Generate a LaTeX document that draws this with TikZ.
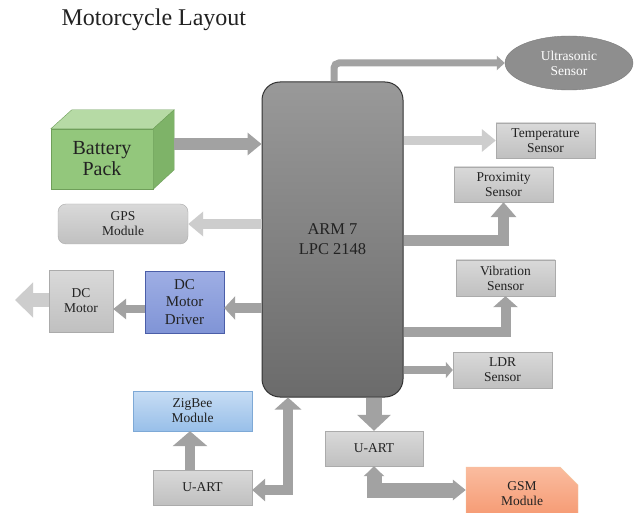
\documentclass[tikz,border=0pt]{standalone}
\usepackage{fontspec}
\setmainfont{Liberation Serif}
\usetikzlibrary{arrows.meta,calc,shapes.geometric,shapes.misc}
\definecolor{armtop}{HTML}{999999}
\definecolor{armbot}{HTML}{6B6B6B}
\definecolor{armborder}{HTML}{333333}
\definecolor{boxtop}{HTML}{D9D9D9}
\definecolor{boxbot}{HTML}{C0C0C0}
\definecolor{boxborder}{HTML}{ABABAB}
\definecolor{midarrcol}{HTML}{A2A2A2}
\definecolor{lightarrcol}{HTML}{CDCDCD}
\definecolor{batfrontcol}{HTML}{93C77C}
\definecolor{battopcol}{HTML}{B6DAA5}
\definecolor{batsidecol}{HTML}{7EB368}
\definecolor{batbordercol}{HTML}{6F9F5A}
\definecolor{drvtop}{HTML}{9EAEE4}
\definecolor{drvbot}{HTML}{8094D6}
\definecolor{drvborder}{HTML}{4B5EA8}
\definecolor{zigtop}{HTML}{C7DDF4}
\definecolor{zigbot}{HTML}{98BFE9}
\definecolor{zigborder}{HTML}{7EA9D6}
\definecolor{gsmtop}{HTML}{FABC9F}
\definecolor{gsmbot}{HTML}{F5976F}
\definecolor{gsmborder}{HTML}{F4C8A0}
\definecolor{ultrafill}{HTML}{8E8E8E}
\definecolor{ultraborder}{HTML}{7B7B7B}
\definecolor{txtcol}{HTML}{222222}
\newcommand{\txtsmall}{\fontsize{13.5}{15}\selectfont}
\begin{document}
\begin{tikzpicture}[x=1pt,y=-1pt,
  graybox/.style={draw=boxborder, top color=boxtop, bottom color=boxbot,
    minimum width=99pt, minimum height=35pt, inner sep=1pt, align=center,
    font=\txtsmall, text=txtcol},
  barr/.style n args={3}{line width=#1pt, -{Triangle[width=#2pt,length=#3pt]}, line join=miter},
  bbarr/.style n args={5}{line width=#1pt, {Triangle[width=#2pt,length=#3pt]}-{Triangle[width=#4pt,length=#5pt]}, line join=miter},
  midarr/.style={draw=midarrcol},
  lightarr/.style={draw=lightarrcol}]
\clip (0,0) rectangle (640,513);
\fill[white] (0,0) rectangle (640,513);

\node[anchor=base west, font=\fontsize{24}{26}\selectfont, text=txtcol] (title) at (58,26) {Motorcycle Layout};

% main controller
\node[draw=armborder, line width=1pt, top color=armtop, bottom color=armbot,
  rounded corners=18pt, minimum width=141pt, minimum height=315pt,
  font=\fontsize{16.5}{20}\selectfont, align=center, text=txtcol] (arm) at (332.5,239.5) {ARM 7\\LPC 2148};

% battery
\node[fill=batfrontcol, draw=batbordercol, minimum width=102pt, minimum height=60pt,
  inner sep=0pt, align=center, font=\fontsize{20}{21}\selectfont, text=txtcol] (bat) at (102,159) {Battery\\Pack};
\filldraw[fill=battopcol, draw=batbordercol] (bat.north west) -- ++(21,-19) -- ($(bat.north east)+(21,-19)$) -- (bat.north east) -- cycle;
\filldraw[fill=batsidecol, draw=batbordercol] (bat.north east) -- ++(21,-19) -- ++(0,60) -- (bat.south east) -- cycle;
\coordinate (batside) at ($(bat.east)+(21,-15)$);

% left side
\node[draw=boxborder, top color=boxtop, bottom color=boxbot, rounded corners=8pt,
  minimum width=130pt, minimum height=40pt, inner sep=1pt, align=center,
  font=\txtsmall, text=txtcol] (gps) at (123,224) {GPS\\Module};
\node[draw=drvborder, top color=drvtop, bottom color=drvbot, minimum width=79pt,
  minimum height=62pt, inner sep=1pt, align=center,
  font=\fontsize{15}{17.5}\selectfont, text=txtcol] (driver) at (184.5,302) {DC\\Motor\\Driver};
\node[graybox, minimum width=64pt, minimum height=62pt] (motor) at (81,301) {DC\\Motor};
\node[draw=zigborder, top color=zigtop, bottom color=zigbot, minimum width=119pt,
  minimum height=40pt, inner sep=1pt, align=center, font=\txtsmall, text=txtcol] (zigbee) at (192.5,411) {ZigBee\\Module};
\node[graybox] (uartL) at (202.5,487.5) {U-ART};

% right side
\node[ellipse, fill=ultrafill, draw=ultraborder, minimum width=128pt, minimum height=54pt,
  inner sep=0pt, text=white, align=center, font=\txtsmall] (ultra) at (569,63) {Ultrasonic\\Sensor};
\node[graybox] (temp) at (545.5,140.5) {Temperature\\Sensor};
\node[graybox] (prox) at (503.5,184.5) {Proximity\\Sensor};
\node[graybox, minimum height=36pt] (vib) at (505.5,278) {Vibration\\Sensor};
\node[graybox, minimum height=36pt] (ldr) at (502.5,370) {LDR\\Sensor};
\node[graybox, minimum width=98pt] (uartR) at (374,448.5) {U-ART};
\node[chamfered rectangle, chamfered rectangle corners=north east, chamfered rectangle xsep=9pt,
  chamfered rectangle ysep=9pt, draw=gsmborder, top color=gsmtop, bottom color=gsmbot,
  minimum width=112pt, minimum height=54pt, inner sep=1pt, align=center,
  font=\txtsmall, text=txtcol] (gsm) at (522,494) {GSM\\Module};

% connectors
\coordinate (mout) at (15,300);
\coordinate (drv) at (0,308);
\coordinate (mot) at (0,309);
\coordinate (ul) at (288,490);
\coordinate (zx) at (190,0);
\coordinate (ux) at (334,0);
\coordinate (pr) at (0,241);
\coordinate (vb) at (0,332);
\coordinate (gs) at (0,490);

\draw[midarr, barr={12}{22}{14}] (batside) -- (arm.west |- batside);
\draw[lightarr, barr={10}{24}{15}] (arm.west |- gps.east) -- (gps.east);
\draw[midarr, barr={10}{23}{11}] (arm.west |- drv) -- (driver.east |- drv);
\draw[midarr, barr={8}{20}{13}] (driver.west |- mot) -- (motor.east |- mot);
\draw[lightarr, barr={14}{34}{18}] (motor.west |- mout) -- (mout);
\draw[midarr, bbarr={10}{26}{12}{22}{13}] (arm.south -| ul) -- (ul) -- (uartL.east |- ul);
\draw[midarr, barr={10}{34}{15}] (uartL.north -| zx) -- (zigbee.south -| zx);
\draw[midarr, rounded corners=5pt, barr={7}{14}{8}] (arm.north -| ux) |- (ultra.west);
\draw[lightarr, barr={9}{22}{14}] (arm.east |- temp.west) -- (temp.west);
\draw[midarr, barr={11}{25}{15}] (arm.east |- pr) -| (prox.south);
\draw[midarr, barr={10}{24}{11}] (arm.east |- vb) -| (vib.south);
\draw[midarr, barr={8}{16}{7}] (arm.east |- ldr.west) -- (ldr.west);
\draw[midarr, barr={16}{33}{16}] (arm.south -| uartR.north) -- (uartR.north);
\draw[midarr, bbarr={15}{20}{10}{20}{13}] (uartR.south) |- (gsm.west |- gs);
\end{tikzpicture}
\end{document}
